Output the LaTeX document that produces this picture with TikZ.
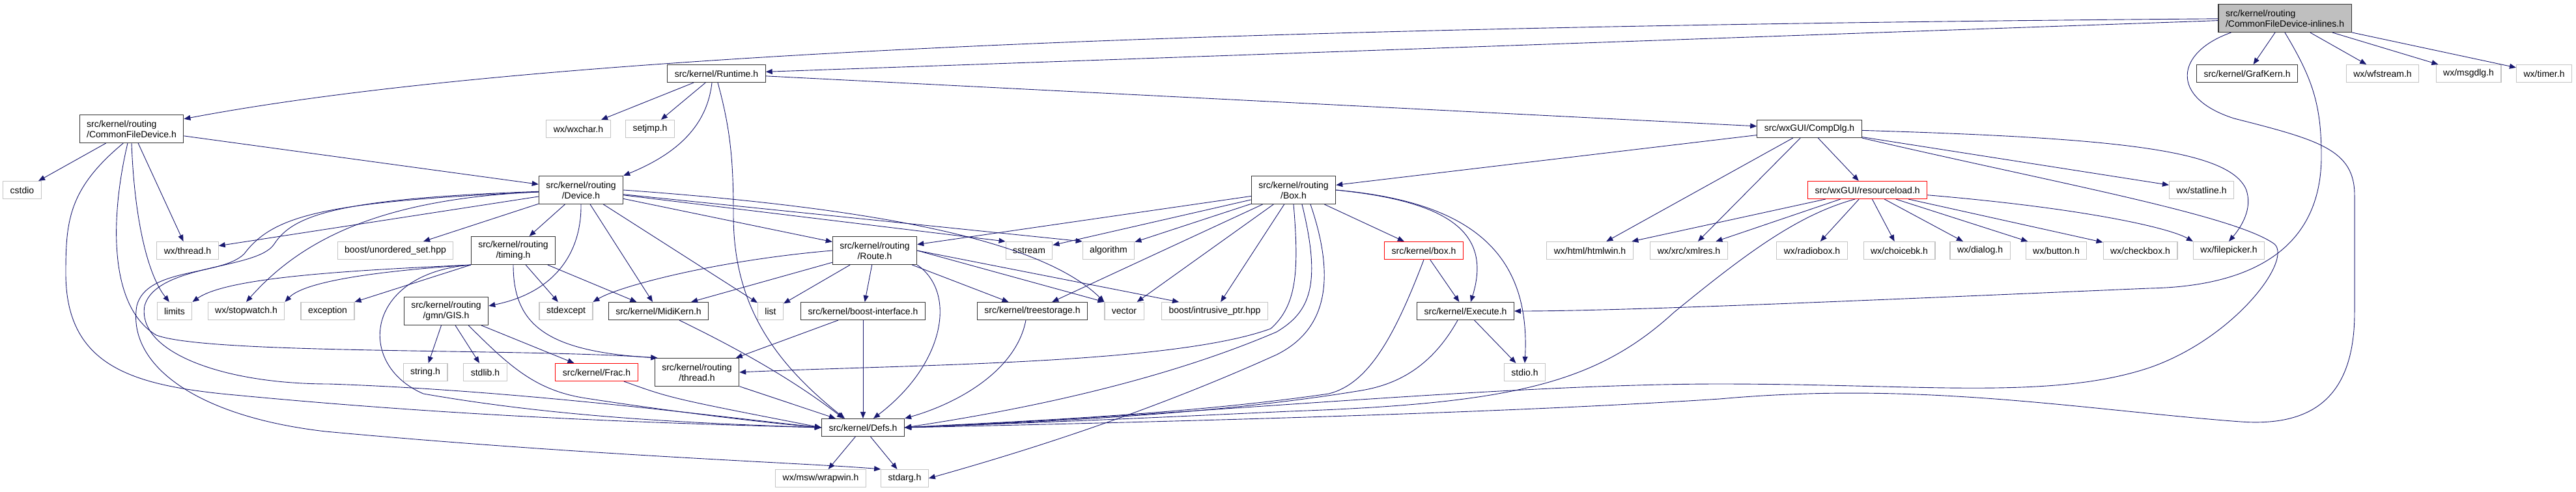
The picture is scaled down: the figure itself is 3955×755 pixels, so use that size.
\documentclass[tikz,border=0pt]{standalone}
\usepackage{fontspec}
\setmainfont{Liberation Sans}
\usetikzlibrary{arrows.meta}
\definecolor{edgeblue}{HTML}{191970}
\definecolor{rootgray}{HTML}{BFBFBF}
\definecolor{extgray}{HTML}{C4C4C4}

\begin{document}
\begin{tikzpicture}[
  x=1pt, y=-1pt,
  >={Triangle[length=10pt,width=8pt]},
  hdr/.style={draw=black!80, line width=1.1pt, fill=white, align=center, inner xsep=11pt, inner ysep=2pt, minimum height=27pt, font=\fontsize{14}{16}\selectfont},
  ext/.style={hdr, draw=extgray},
  trunc/.style={hdr, draw=red},
  two/.style={minimum height=43pt},
  line/.style={->, draw=edgeblue, line width=0.9pt},
]
\path[use as bounding box] (0,0) rectangle (3955,755);

% === ROW 0/1: root and its direct headers ===
\node[hdr, two, fill=rootgray, align=left] (root) at (3508,28) {src/kernel/routing\\/CommonFileDevice-inlines.h};
\node[hdr] (runtime) at (1100,113) {src/kernel/Runtime.h};
\node[hdr] (grafkern) at (3450,113) {src/kernel/GrafKern.h};
\node[ext] (wfstream) at (3658,113) {wx/wfstream.h};
\node[ext] (msgdlg) at (3790,113) {wx/msgdlg.h};
\node[ext] (timer) at (3906,113) {wx/timer.h};

% === ROW 2 ===
\node[hdr, two, align=left] (cfd) at (202,198) {src/kernel/routing\\/CommonFileDevice.h};
\node[ext] (wxchar) at (888,198) {wx/wxchar.h};
\node[ext] (setjmp) at (998,198) {setjmp.h};
\node[hdr] (compdlg) at (2778,198) {src/wxGUI/CompDlg.h};

% === ROW 3 ===
\node[ext] (cstdio) at (34,292) {cstdio};
\node[hdr, two] (device) at (892,292) {src/kernel/routing\\/Device.h};
\node[hdr, two] (boxh) at (1986,292) {src/kernel/routing\\/Box.h};
\node[trunc] (resload) at (2867,292) {src/wxGUI/resourceload.h};
\node[ext] (statline) at (3380,292) {wx/statline.h};

% === ROW 4 ===
\node[ext] (wxthread) at (288,385) {wx/thread.h};
\node[ext] (unordset) at (607,385) {boost/unordered\_set.hpp};
\node[hdr, two] (timing) at (788,385) {src/kernel/routing\\/timing.h};
\node[hdr, two] (route) at (1343,385) {src/kernel/routing\\/Route.h};
\node[ext] (sstream) at (1580,385) {sstream};
\node[ext] (algorithm) at (1702,385) {algorithm};
\node[trunc] (kbox) at (2186,385) {src/kernel/box.h};
\node[ext] (htmlwin) at (2441,385) {wx/html/htmlwin.h};
\node[ext] (xmlres) at (2593,385) {wx/xrc/xmlres.h};
\node[ext] (radiobox) at (2782,385) {wx/radiobox.h};
\node[ext] (choicebk) at (2916,385) {wx/choicebk.h};
\node[ext] (dialog) at (3040,385) {wx/dialog.h};
\node[ext] (button) at (3157,385) {wx/button.h};
\node[ext] (checkbox) at (3286,385) {wx/checkbox.h};
\node[ext] (filepicker) at (3422,385) {wx/filepicker.h};

% === ROW 5 ===
\node[ext] (limits) at (268,478) {limits};
\node[ext] (stopwatch) at (378,478) {wx/stopwatch.h};
\node[ext] (exception) at (503,478) {exception};
\node[hdr, two] (gis) at (685,478) {src/kernel/routing\\/gmn/GIS.h};
\node[ext] (stdexcept) at (869,478) {stdexcept};
\node[hdr] (midikern) at (1011,478) {src/kernel/MidiKern.h};
\node[ext] (list) at (1183,478) {list};
\node[hdr] (boostif) at (1325,478) {src/kernel/boost-interface.h};
\node[hdr] (treestor) at (1585,478) {src/kernel/treestorage.h};
\node[ext] (vector) at (1726,478) {vector};
\node[ext] (intrusive) at (1865,478) {boost/intrusive\_ptr.hpp};
\node[hdr] (execute) at (2250,478) {src/kernel/Execute.h};

% === ROW 6-8 ===
\node[ext] (stringh) at (653,572) {string.h};
\node[ext] (stdlib) at (745,572) {stdlib.h};
\node[trunc] (frac) at (916,572) {src/kernel/Frac.h};
\node[hdr, two] (thread) at (1070,572) {src/kernel/routing\\/thread.h};
\node[ext] (stdio) at (2341,572) {stdio.h};
\node[hdr] (defs) at (1325,657) {src/kernel/Defs.h};
\node[ext] (wrapwin) at (1260,735) {wx/msw/wrapwin.h};
\node[ext] (stdarg) at (1389,735) {stdarg.h};

% === root ===
\draw[line] (root) .. controls (2000,40) and (850,75) .. (cfd);
\draw[line] (root) -- (runtime);
\draw[line] (root) -- (grafkern);
\draw[line] (root) -- (wfstream);
\draw[line] (root) -- (msgdlg);
\draw[line] (root) -- (timer);
\draw[line] (root.south) .. controls (3550,120) and (3564,160) .. (3564,240) .. controls (3564,380) and (3460,440) .. (3300,443) .. controls (2900,460) and (2500,478) .. (execute.east);
\draw[line] ([xshift=20pt]root.south west) .. controls (3340,80) and (3330,150) .. (3430,182) .. controls (3560,215) and (3615,230) .. (3615,300) -- (3615,480) .. controls (3615,620) and (3540,655) .. (3440,648) .. controls (3200,630) and (2950,585) .. (2640,613) .. controls (2300,635) and (1800,648) .. (defs.east);

% === CommonFileDevice.h ===
\draw[line] (cfd) -- (cstdio);
\draw[line] (cfd) -- (device);
\draw[line] (cfd) -- (wxthread);
\draw[line] (cfd.south) .. controls (206,330) and (225,420) .. (limits.120);
\draw[line] ([xshift=-6pt]cfd.south) .. controls (170,330) and (165,470) .. (240,515) .. controls (320,545) and (800,535) .. (thread.160);
\draw[line] (cfd.240) .. controls (105,290) and (101,340) .. (101,420) .. controls (101,560) and (200,590) .. (340,605) .. controls (700,640) and (1000,650) .. (defs.west);

% === Runtime.h ===
\draw[line] (runtime) -- (wxchar);
\draw[line] (runtime) -- (setjmp);
\draw[line] ([xshift=-7pt]runtime.south) .. controls (1085,200) and (1030,240) .. (device.north east);
\draw[line] ([xshift=2pt]runtime.south) .. controls (1122,200) and (1126,250) .. (1126,330) .. controls (1126,460) and (1180,550) .. ([xshift=36pt]defs.north west);
\draw[line] (runtime) -- (compdlg);

% === Device.h ===
\draw[line] (device) -- (wxthread);
\draw[line] (device) -- (unordset);
\draw[line] (device) -- (timing);
\draw[line] (device.south) .. controls (893,390) and (850,450) .. ([yshift=8pt]gis.east);
\draw[line] (device) -- (midikern);
\draw[line] (device) -- (list);
\draw[line] (device) -- (route);
\draw[line] (device) -- (sstream.north west);
\draw[line] (device) -- (algorithm.north west);
\draw[line] (device.east) .. controls (1350,320) and (1600,370) .. (vector.north west);
\draw[line] (device) .. controls (600,305) and (470,360) .. (stopwatch.north);
\draw[line] (device) .. controls (500,310) and (420,330) .. (375,390) .. controls (340,425) and (225,410) .. (210,470) .. controls (195,560) and (300,640) .. (500,663) .. controls (900,700) and (1250,712) .. (stdarg.north west);
\draw[line] (device) .. controls (520,305) and (450,330) .. (421,375) .. controls (395,415) and (240,405) .. (222,470) .. controls (210,540) and (340,590) .. (505,590) .. controls (800,600) and (1100,640) .. (defs.west);

% === CompDlg.h ===
\draw[line] (compdlg) -- (boxh);
\draw[line] (compdlg) -- (resload);
\draw[line] (compdlg) -- (htmlwin);
\draw[line] (compdlg) -- (xmlres);
\draw[line] (compdlg) -- (statline);
\draw[line] (compdlg) .. controls (3250,212) and (3420,230) .. (3448,290) .. controls (3460,320) and (3440,350) .. (filepicker.north);
\draw[line] (compdlg.south east) .. controls (3150,280) and (3430,330) .. (3492,375) .. controls (3520,400) and (3430,520) .. (3300,565) .. controls (3150,615) and (2950,590) .. (2640,590) .. controls (2300,590) and (1800,640) .. (defs.east);

% === resourceload.h ===
\draw[line] (resload) -- (htmlwin);
\draw[line] (resload) -- (xmlres);
\draw[line] (resload) -- (radiobox);
\draw[line] (resload) -- (choicebk);
\draw[line] (resload) -- (dialog);
\draw[line] (resload) -- (button);
\draw[line] (resload) -- (checkbox);
\draw[line] (resload) .. controls (3200,320) and (3330,350) .. (filepicker.north west);
\draw[line] ([xshift=-19pt]resload.south) .. controls (2760,330) and (2680,390) .. (2570,480) .. controls (2450,590) and (2320,620) .. (1980,632) .. controls (1700,645) .. (defs.east);

% === Box.h ===
\draw[line] (boxh) -- (route);
\draw[line] (boxh) -- (sstream);
\draw[line] (boxh) -- (algorithm);
\draw[line] (boxh) -- (treestor);
\draw[line] (boxh) -- (vector);
\draw[line] (boxh) -- (intrusive);
\draw[line] (boxh) -- (kbox);
\draw[line] (boxh.east) .. controls (2230,310) and (2290,360) .. ([xshift=8pt]execute.north);
\draw[line] (boxh.east) .. controls (2260,310) and (2350,390) .. (stdio.north);
\draw[line] (boxh.south) .. controls (1995,420) and (1990,470) .. (1951,505) .. controls (1800,560) and (1400,560) .. (thread.east);
\draw[line] ([xshift=13pt]boxh.south) .. controls (2030,440) and (2010,480) .. (1960,510) .. controls (1750,600) and (1500,640) .. (defs.east);
\draw[line] ([xshift=26pt]boxh.south) .. controls (2055,440) and (2030,510) .. (1960,545) .. controls (1750,640) and (1550,700) .. (stdarg.east);

% === box.h, Execute.h ===
\draw[line] (kbox) -- (execute);
\draw[line] (kbox.south) .. controls (2140,520) and (2100,590) .. (2040,605) .. controls (1800,640) and (1500,650) .. (defs.east);
\draw[line] (execute) -- (stdio);
\draw[line] ([xshift=-12pt]execute.south) .. controls (2200,560) and (2150,590) .. (2090,600) .. controls (1850,640) and (1550,650) .. (defs.east);

% === timing.h ===
\draw[line] (timing.south west) .. controls (550,415) and (350,425) .. (limits.north east);
\draw[line] (timing.south west) .. controls (600,415) and (470,430) .. (stopwatch.north east);
\draw[line] (timing.south west) -- (exception.north east);
\draw[line] (timing) -- (stdexcept);
\draw[line] (timing) -- (midikern);
\draw[line] (timing.south) .. controls (788,500) and (840,540) .. (thread.160);
\draw[line] (timing.south west) .. controls (560,420) and (545,560) .. (650,605) .. controls (850,640) and (1050,650) .. (defs.west);

% === Route.h ===
\draw[line] (route.west) .. controls (1100,400) and (950,440) .. (stdexcept.north east);
\draw[line] (route) -- (midikern);
\draw[line] (route) -- (list);
\draw[line] (route) -- (boostif);
\draw[line] (route) -- (treestor);
\draw[line] (route.east) -- (vector.north west);
\draw[line] (route.east) -- ([xshift=-55pt]intrusive.north);
\draw[line] (route.south east) .. controls (1470,450) and (1450,560) .. ([xshift=16pt]defs.north);

% === GIS.h and the rest ===
\draw[line] (gis) -- (stringh);
\draw[line] (gis) -- (stdlib);
\draw[line] (gis) -- (frac);
\draw[line] ([xshift=-31pt]gis.south east) .. controls (780,560) and (820,600) .. (900,612) .. controls (1050,635) and (1180,650) .. (defs.west);
\draw[line] ([xshift=32pt]midikern.south) .. controls (1100,520) and (1200,570) .. ([xshift=-30pt]defs.north);
\draw[line] (boostif) -- (thread);
\draw[line] (boostif) -- (defs);
\draw[line] ([xshift=-10pt]treestor.south) .. controls (1560,570) and (1470,620) .. (defs.north east);
\draw[line] ([xshift=42pt]frac.south) .. controls (1030,612) .. (defs.west);
\draw[line] (thread) -- (defs);
\draw[line] (defs) -- (wrapwin);
\draw[line] (defs) -- (stdarg);

\end{tikzpicture}
\end{document}
